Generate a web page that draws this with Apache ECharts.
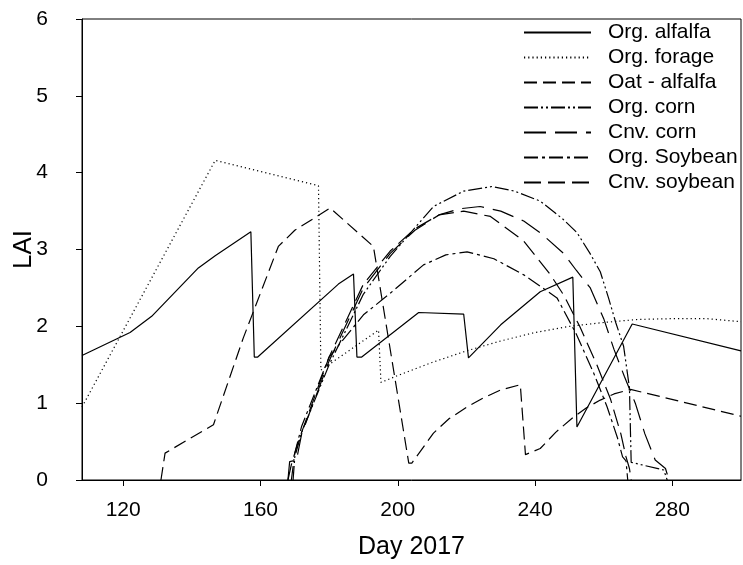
<!DOCTYPE html>
<html>
<head>
  <meta charset="utf-8">
  <title>LAI 2017</title>
  <script src="https://cdn.jsdelivr.net/npm/echarts@6/dist/echarts.min.js"></script>
  <style>
    html, body { margin: 0; padding: 0; background: #fff; }
    #chart1 { width: 743px; height: 565px; }
  </style>
</head>
<body>
<div id="chart1"></div>
<script type="text/javascript">
  // tick labels
  const dayTicks = [120, 160, 200, 240, 280];

  // [day, LAI]
  const orgAlfalfa = [[108,1.62],[122,1.92],[128.3,2.13],[141.9,2.76],[146.8,2.92],[157.2,3.23],[158.2,1.6],[159.2,1.6],
    [182.7,2.55],[187.1,2.68],[188.1,1.6],[189.5,1.6],[206.1,2.18],[219.2,2.16],[220.6,1.59],[230,2.02],[241.5,2.45],
    [251,2.64],[252.2,0.69],[268.3,2.03],[300,1.68]];
  const orgForage = [[108,0.95],[146.8,4.16],[176.9,3.83],[177.6,1.43],[194.4,1.95],[195.1,1.27],[200,1.36],[210,1.53],
    [220,1.68],[230,1.81],[240,1.92],[250,2.0],[260,2.05],[270,2.09],[280,2.1],[290,2.1],[300,2.06]];
  const oatAlfalfa = [[131,0],[132.2,0.35],[146.3,0.72],[155,1.85],[165.2,3.04],[170,3.25],[180.3,3.54],[192.9,3.04],
    [203.2,0.22],[204.1,0.22],[210.4,0.61],[215,0.8],[220.2,0.95],[225,1.07],[229.9,1.17],[235.7,1.24],[237.2,0.33],
    [241.5,0.41],[246,0.62],[251.2,0.82],[255,0.94],[259,1.04],[263,1.12],[267.8,1.18],[300,0.83]];
  const orgCorn = [[169.5,0],[170,0.3],[172,0.62],[180,1.5],[190,2.42],[197.8,2.91],[203.6,3.21],[210.4,3.56],[219.2,3.76],
    [227.5,3.82],[234,3.76],[241.5,3.63],[248,3.4],[252.2,3.22],[256,2.95],[259,2.71],[261.4,2.37],[263.5,2.05],
    [265.8,1.74],[267.5,1.2],[268,0.23],[277.5,0.13],[278.5,0]];
  const cnvCorn = [[168,0],[168.5,0.24],[170.5,0.26],[172,0.6],[180,1.55],[190,2.5],[197.8,2.95],[205,3.25],[212,3.45],
    [218,3.53],[224,3.56],[230,3.5],[236.7,3.37],[242,3.2],[248.3,2.95],[252,2.73],[256.1,2.5],[260,2.1],[263,1.7],
    [266,1.35],[269.2,1.0],[272,0.6],[275,0.26],[278,0.15],[279,0]];
  const orgSoybean = [[169,0],[170,0.35],[172,0.7],[180,1.6],[190,2.15],[197.8,2.43],[207.5,2.8],[214,2.93],[220.2,2.97],
    [228,2.88],[236.7,2.67],[246.4,2.37],[252,1.9],[257,1.4],[261,0.95],[264,0.55],[265.5,0.3],[266.5,0.25],[267,0]];
  const cnvSoybean = [[168,0],[169,0.2],[171,0.5],[180,1.6],[190,2.55],[197.8,2.98],[205,3.27],[212,3.45],[219.2,3.5],
    [227,3.43],[236.7,3.11],[244.5,2.67],[248.3,2.41],[253,2.0],[258,1.5],[262,1.05],[265,0.6],[266.5,0.3],[267.5,0.15],[268,0]];

  const seriesNames = ['Org. alfalfa', 'Org. forage', 'Oat - alfalfa', 'Org. corn', 'Cnv. corn', 'Org. Soybean', 'Cnv. soybean'];
  const seriesData = [orgAlfalfa, orgForage, oatAlfalfa, orgCorn, cnvCorn, orgSoybean, cnvSoybean];
  const dashTypes = ['solid', [1.2, 3], [13, 6], [14, 3, 2, 3, 2, 3], [22, 9], [14, 4, 3, 4], [17, 7]];

  const font = 'Liberation Sans, Arial, sans-serif';
  let myChart1 = echarts.init(document.getElementById('chart1'));

  myChart1.setOption({
    animation: false,
    backgroundColor: '#fff',
    textStyle: { fontFamily: font, color: '#000' },
    grid: {
      left: 82, right: 2, top: 19, bottom: 85,
      containLabel: false, outerBoundsMode: 'none',
      show: true, borderColor: '#000', borderWidth: 1
    },
    legend: {
      orient: 'vertical',
      left: 523,
      top: 22,
      padding: 0,
      itemWidth: 67,
      itemHeight: 14,
      itemGap: 4,
      data: seriesNames,
      itemStyle: { opacity: 0, borderWidth: 0 },
      textStyle: { fontFamily: font, fontSize: 21, lineHeight: 21, color: '#000', padding: [0, 0, 0, 12] }
    },
    xAxis: {
      type: 'value',
      min: 108,
      max: 300,
      name: 'Day 2017',
      nameLocation: 'middle',
      nameGap: 55,
      nameMoveOverlap: false,
      nameTextStyle: { fontFamily: font, fontSize: 25, color: '#000' },
      axisLine: { lineStyle: { color: '#000', width: 1 } },
      axisTick: { inside: false, length: 6, lineStyle: { color: '#000' }, customValues: dayTicks },
      axisLabel: { margin: 20, fontSize: 21, color: '#000', fontFamily: font, customValues: dayTicks },
      splitLine: { show: false }
    },
    yAxis: {
      type: 'value',
      min: 0,
      max: 6,
      interval: 1,
      name: 'LAI',
      nameLocation: 'middle',
      nameGap: 45,
      nameMoveOverlap: false,
      nameTextStyle: { fontFamily: font, fontSize: 26, color: '#000' },
      axisLine: { show: true, lineStyle: { color: '#000', width: 1 } },
      axisTick: { show: true, inside: false, length: 6, lineStyle: { color: '#000' } },
      axisLabel: { margin: 34, fontSize: 21, color: '#000', fontFamily: font },
      splitLine: { show: false }
    },
    series: seriesNames.map((n, i) => ({
      name: n,
      type: 'line',
      data: seriesData[i],
      symbol: 'none',
      lineStyle: { color: '#000', width: 1.2, type: dashTypes[i] },
      itemStyle: { color: '#000' }
    }))
  });
</script>
</body>
</html>
